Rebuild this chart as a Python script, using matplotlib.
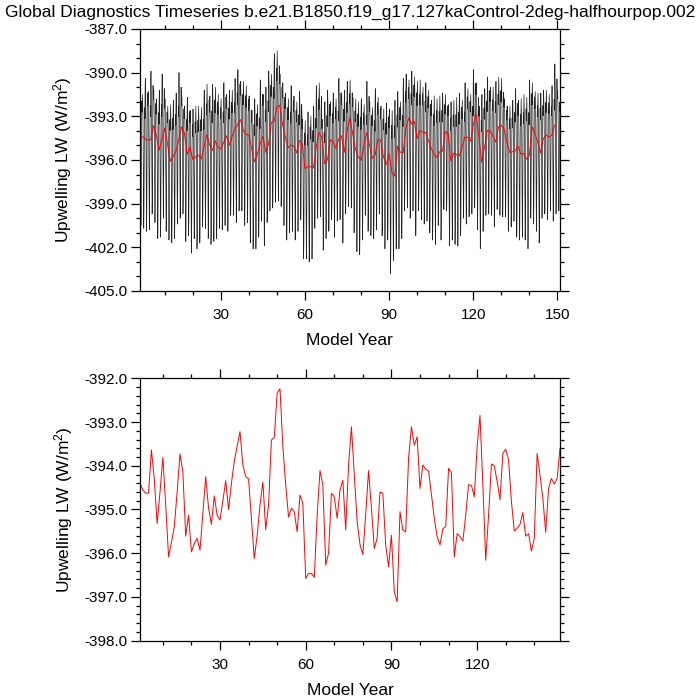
import numpy as np
import matplotlib
matplotlib.use("Agg")
import matplotlib.pyplot as plt
from matplotlib.ticker import MultipleLocator, FormatStrFormatter


# ==============================
# DATA
# ==============================

TITLE = "Global Diagnostics Timeseries b.e21.B1850.f19_g17.127kaControl-2deg-halfhourpop.002"
Y_LABEL = "Upwelling LW (W/m$^2$)"
X_LABEL = "Model Year"

# annual mean (red line), model years 2..149
annual_years = np.arange(2, 150)
annual_mean = [
    -394.40, -394.55, -394.63, -394.62, -393.64, -394.30, -395.32, -394.60, -393.81,
    -394.90, -396.08, -395.75, -395.40, -394.60, -393.73, -394.14, -395.61, -395.13,
    -395.97, -395.78, -395.66, -395.93, -395.10, -394.25, -394.97, -395.34, -394.69,
    -395.13, -395.24, -394.80, -394.34, -395.00, -394.40, -393.90, -393.55, -393.22,
    -393.98, -394.25, -394.30, -395.20, -396.12, -395.60, -394.90, -394.37, -395.46,
    -394.90, -393.41, -393.35, -392.34, -392.24, -393.56, -394.44, -395.17, -394.97,
    -395.05, -395.51, -394.67, -394.86, -396.58, -396.46, -396.46, -396.55, -395.13,
    -394.11, -394.44, -396.27, -396.00, -394.63, -394.71, -395.20, -394.56, -394.33,
    -395.47, -393.98, -393.11, -394.21, -395.28, -395.80, -396.03, -395.10, -394.11,
    -394.97, -395.89, -395.66, -394.60, -394.63, -395.81, -396.31, -395.59, -396.88,
    -397.11, -395.05, -395.47, -395.51, -393.83, -393.11, -393.53, -393.34, -394.52,
    -393.98, -394.08, -394.12, -394.67, -395.20, -395.62, -395.81, -395.44, -395.39,
    -394.06, -394.16, -396.08, -395.55, -395.62, -395.72, -395.13, -394.43, -394.45,
    -394.71, -393.56, -392.85, -394.43, -396.16, -395.13, -393.96, -394.00, -394.36,
    -394.78, -393.72, -393.62, -393.87, -394.82, -395.49, -395.43, -395.34, -395.07,
    -395.61, -395.55, -395.95, -395.66, -393.72, -394.21, -394.75, -395.52, -394.52,
    -394.29, -394.42, -394.29, -393.60,
]

# monthly series (black line), model years 1..150:
# highest month of each year, lowest month (July) of each year,
# and the shape of the seasonal cycle between them (0 = lowest, 1 = highest)
monthly_years = np.arange(1, 151)
year_peak = [
    -391.0, -391.5, -390.4, -391.3, -389.9, -391.2, -391.8, -391.2, -390.1, -391.8,
    -392.3, -392.2, -391.9, -391.4, -390.0, -391.7, -392.3, -391.7, -392.6, -392.5,
    -392.3, -392.3, -392.4, -391.2, -390.8, -391.6, -390.8, -391.0, -391.5, -391.8,
    -390.7, -391.5, -391.2, -391.2, -390.4, -389.8, -390.6, -390.6, -390.9, -391.6,
    -392.6, -391.8, -392.2, -390.5, -391.5, -391.0, -389.9, -390.1, -388.7, -388.5,
    -390.1, -390.7, -391.4, -391.8, -390.9, -391.6, -392.0, -391.3, -393.2, -393.3,
    -392.7, -393.0, -392.3, -390.9, -390.7, -393.2, -392.0, -391.2, -392.0, -391.4,
    -391.8, -390.4, -391.5, -391.2, -390.6, -390.5, -391.7, -391.8, -392.0, -391.8,
    -392.2, -390.6, -392.0, -392.4, -391.1, -391.7, -392.3, -392.5, -392.1, -392.5,
    -392.6, -391.9, -391.3, -392.0, -390.4, -390.1, -390.5, -389.9, -390.3, -390.6,
    -390.5, -391.0, -390.7, -391.2, -391.9, -391.6, -391.8, -391.6, -391.4, -391.5,
    -392.2, -392.0, -391.9, -391.7, -391.4, -391.9, -390.7, -391.1, -391.5, -389.8,
    -390.7, -392.3, -391.5, -391.1, -390.3, -391.0, -391.0, -390.6, -390.3, -390.4,
    -391.8, -392.3, -392.3, -391.9, -391.1, -391.9, -391.8, -391.5, -391.7, -390.5,
    -390.7, -391.3, -391.4, -391.4, -391.2, -391.2, -391.5, -390.9, -389.4, -391.2,
]
year_trough = [
    -400.5, -400.7, -400.9, -400.8, -399.7, -400.3, -401.4, -401.3, -400.0, -400.9,
    -401.5, -401.7, -401.4, -400.4, -400.0, -399.7, -401.6, -401.2, -402.4, -401.4,
    -402.1, -401.7, -400.6, -400.7, -401.4, -401.8, -401.6, -401.4, -400.7, -400.8,
    -400.5, -400.9, -399.8, -399.8, -400.3, -399.5, -399.5, -400.5, -400.3, -401.7,
    -402.1, -402.1, -401.3, -400.2, -401.9, -400.3, -399.5, -399.3, -398.9, -398.8,
    -399.2, -400.5, -401.5, -401.0, -400.9, -401.5, -400.9, -400.1, -402.8, -402.8,
    -403.0, -402.8, -400.7, -400.0, -399.9, -402.2, -401.4, -400.9, -400.1, -401.3,
    -400.2, -400.1, -401.7, -399.7, -399.2, -399.3, -401.0, -402.3, -402.5, -401.5,
    -399.8, -400.9, -401.2, -401.4, -400.8, -399.7, -401.2, -402.1, -401.5, -403.8,
    -402.9, -402.1, -402.1, -401.4, -399.5, -399.3, -400.0, -399.5, -401.2, -399.5,
    -400.1, -400.4, -400.2, -401.0, -401.5, -401.8, -400.5, -401.5, -399.4, -399.5,
    -401.9, -401.5, -401.8, -401.9, -401.2, -400.0, -400.4, -399.9, -399.7, -399.3,
    -400.8, -402.1, -400.9, -399.8, -399.7, -399.8, -400.6, -399.4, -399.8, -399.9,
    -399.9, -400.9, -400.6, -400.2, -401.3, -401.5, -401.3, -401.5, -402.1, -400.0,
    -400.4, -400.9, -401.7, -400.0, -399.7, -400.1, -399.5, -400.2, -399.7, -399.5,
]
season_shape = [0.93, 1.00, 0.88, 0.80, 0.55, 0.22, 0.00, 0.12, 0.48, 0.78, 0.90, 0.82]


# ==============================
# BUILD MONTHLY SERIES
# ==============================

def build_monthly(years, peaks, troughs, shape):
    t = []
    v = []
    for y, hi, lo in zip(years, peaks, troughs):
        for m, s in enumerate(shape):
            t.append(y + m / 12.0)
            v.append(lo + (hi - lo) * s)
    return np.array(t), np.array(v)


# ==============================
# STYLE
# ==============================

plt.rcParams["font.family"] = ["Liberation Sans", "DejaVu Sans"]
plt.rcParams["mathtext.fontset"] = "custom"
plt.rcParams["mathtext.rm"] = "Liberation Sans"
plt.rcParams["mathtext.it"] = "Liberation Sans"


def style_axes(ax, ymin, ymax, ymajor, yminor):
    ax.set_ylim(ymin, ymax)
    ax.yaxis.set_major_locator(MultipleLocator(ymajor))
    ax.yaxis.set_minor_locator(MultipleLocator(yminor))
    ax.yaxis.set_major_formatter(FormatStrFormatter("%.1f"))
    ax.xaxis.set_major_locator(MultipleLocator(30))
    ax.xaxis.set_minor_locator(MultipleLocator(10))

    ax.tick_params(which="both", direction="out", top=True, right=True,
                   width=0.9, labelsize=11, colors="black")
    ax.tick_params(which="major", length=6.5)
    ax.tick_params(which="minor", length=3.2)
    ax.tick_params(axis="y", pad=2.5)
    ax.tick_params(axis="x", pad=6)

    for spine in ax.spines.values():
        spine.set_linewidth(0.9)

    ax.set_xlabel(X_LABEL, fontsize=12.5, labelpad=8)
    ax.set_ylabel(Y_LABEL, fontsize=12.5, labelpad=7)


# ==============================
# PLOT
# ==============================

def main():
    month_t, month_v = build_monthly(monthly_years, year_peak, year_trough, season_shape)

    fig = plt.figure(figsize=(7, 7), dpi=100)
    fig.text(0.5, 0.982, TITLE, ha="center", va="center", fontsize=12.5)

    # top: monthly + annual mean
    ax1 = fig.add_axes([0.1993, 0.5843, 0.6007, 0.3743])
    ax1.plot(month_t, month_v, color="#222222", linewidth=0.5)
    ax1.plot(annual_years, annual_mean, color="red", linewidth=0.7)
    ax1.set_xlim(1, month_t[-1])
    style_axes(ax1, -405, -387, 3, 1)

    # bottom: annual mean only
    ax2 = fig.add_axes([0.2, 0.0847, 0.6, 0.3749])
    ax2.plot(annual_years, annual_mean, color="red", linewidth=0.7)
    ax2.set_xlim(annual_years[0], annual_years[-1])
    style_axes(ax2, -398, -392, 1, 0.2)

    fig.savefig("out.png", dpi=100)


if __name__ == "__main__":
    main()
